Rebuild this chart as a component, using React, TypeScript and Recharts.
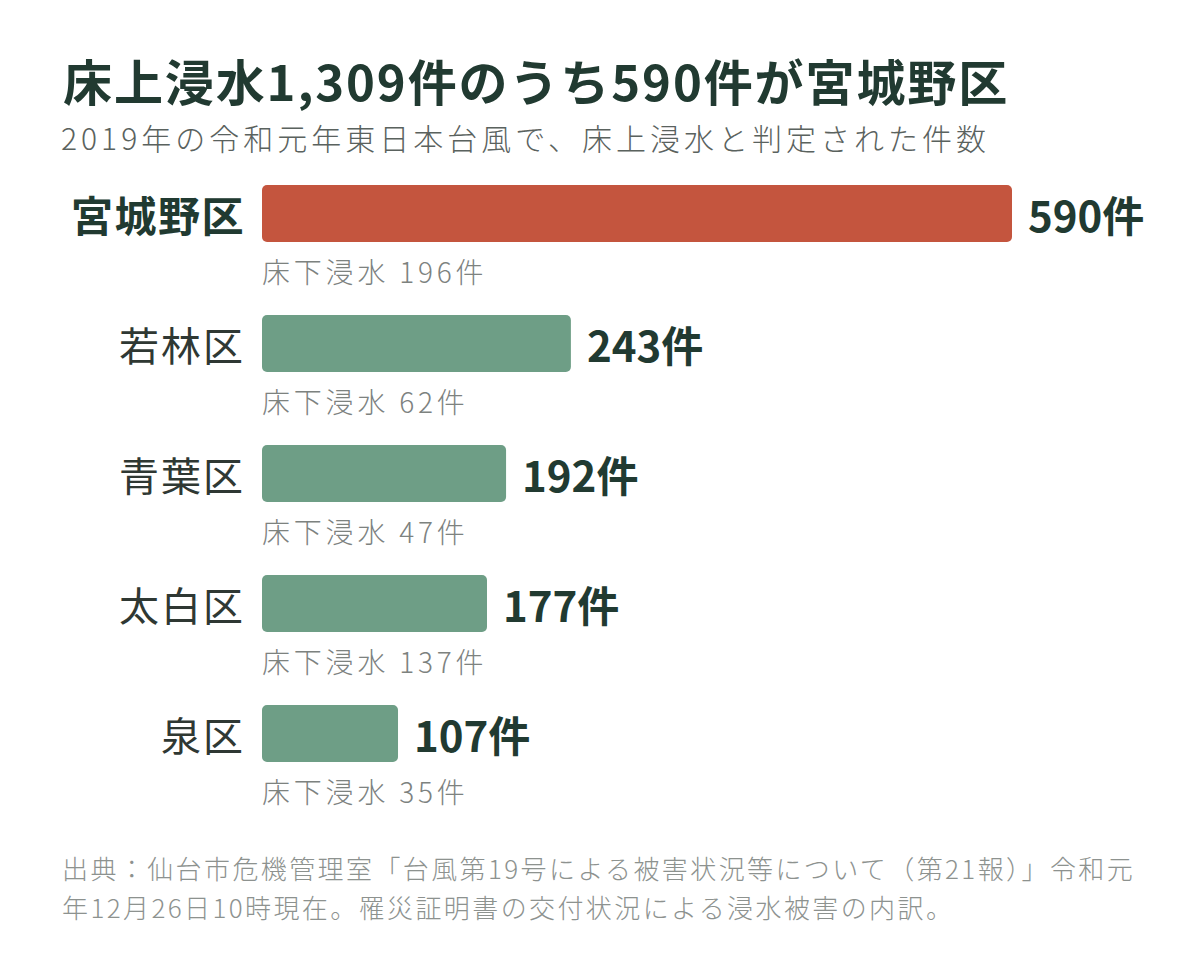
import { BarChart, Bar, XAxis, YAxis, Cell, LabelList } from "recharts";

// 床上浸水（件）と床下浸水（件）, 区ごと
const wards = ["宮城野区", "若林区", "青葉区", "太白区", "泉区"];
const aboveFloor = [590, 243, 192, 177, 107];
const belowFloor = [196, 62, 47, 137, 35];
const highlightWard = "宮城野区";

const data = wards.map((ward, i) => ({
  ward,
  above: aboveFloor[i],
  below: belowFloor[i],
}));

const total = aboveFloor.reduce((s, v) => s + v, 0);
const highlightValue = aboveFloor[wards.indexOf(highlightWard)];

const FONT = "'Noto Sans CJK JP', sans-serif";
const DARK = "#213a31";
const RED = "#c4553e";
const GREEN = "#6e9e86";

// 区名（バーの左側）
const WardLabel = ({ x, y, height, value }: any) => {
  const strong = value === highlightWard;
  return (
    <text
      x={x - 17}
      y={y + height / 2}
      textAnchor="end"
      dominantBaseline="central"
      fontFamily={FONT}
      fontSize={strong ? 42 : 40}
      fontWeight={strong ? 700 : 400}
      letterSpacing={strong ? 1.5 : 2}
      fill={strong ? DARK : "#2f3833"}
    >
      {value}
    </text>
  );
};

const ValueLabel = ({ x, y, width, height, value }: any) => (
  <text
    x={x + width + 16}
    y={y + height / 2}
    dominantBaseline="central"
    fontFamily={FONT}
    fontSize={42}
    fontWeight={700}
    fill={DARK}
  >
    {`${value}件`}
  </text>
);

const BelowLabel = ({ x, y, height, value }: any) => (
  <text
    x={x}
    y={y + height + 29}
    dominantBaseline="central"
    fontFamily={FONT}
    fontSize={28}
    fontWeight={300}
    letterSpacing={3.8}
    fill="#7d827f"
  >
    {`床下浸水 ${value}件`}
  </text>
);

export default function App() {
  return (
    <div
      style={{
        position: "absolute",
        left: 0,
        top: 0,
        width: 1200,
        height: 956,
        background: "#fff",
        fontFamily: FONT,
        overflow: "hidden",
      }}
    >
      {/* Header */}
      <div
        style={{
          position: "absolute",
          left: 63,
          top: 45,
          fontSize: 49,
          fontWeight: 700,
          letterSpacing: 1.9,
          color: DARK,
          lineHeight: "70px",
          whiteSpace: "nowrap",
        }}
      >
        {`床上浸水${total.toLocaleString()}件のうち${highlightValue}件が${highlightWard}`}
      </div>
      <div
        style={{
          position: "absolute",
          left: 61,
          top: 116,
          fontSize: 30,
          fontWeight: 300,
          letterSpacing: 4,
          color: "#5a625e",
          lineHeight: "42px",
          whiteSpace: "nowrap",
        }}
      >
        2019年の令和元年東日本台風で、床上浸水と判定された件数
      </div>

      {/* Chart */}
      <div style={{ position: "absolute", left: 0, top: 0 }}>
        <BarChart
          width={1200}
          height={956}
          data={data}
          layout="vertical"
          margin={{ top: 148, right: 188, bottom: 158, left: 262 }}
        >
          <XAxis type="number" domain={[0, 590]} hide />
          <YAxis type="category" dataKey="ward" hide />
          <Bar dataKey="above" barSize={57} radius={5} isAnimationActive={false}>
            {data.map((d) => (
              <Cell key={d.ward} fill={d.ward === highlightWard ? RED : GREEN} />
            ))}
            <LabelList dataKey="ward" content={<WardLabel />} />
            <LabelList dataKey="above" content={<ValueLabel />} />
            <LabelList dataKey="below" content={<BelowLabel />} />
          </Bar>
        </BarChart>
      </div>

      {/* Footer */}
      <div
        style={{
          position: "absolute",
          left: 62,
          top: 848,
          fontSize: 26,
          fontWeight: 300,
          letterSpacing: 2.4,
          color: "#8d928f",
          lineHeight: "39px",
          whiteSpace: "nowrap",
        }}
      >
        出典：仙台市危機管理室「台風第19号による被害状況等について（第21報）」令和元
        <br />
        年12月26日10時現在。罹災証明書の交付状況による浸水被害の内訳。
      </div>
    </div>
  );
}
